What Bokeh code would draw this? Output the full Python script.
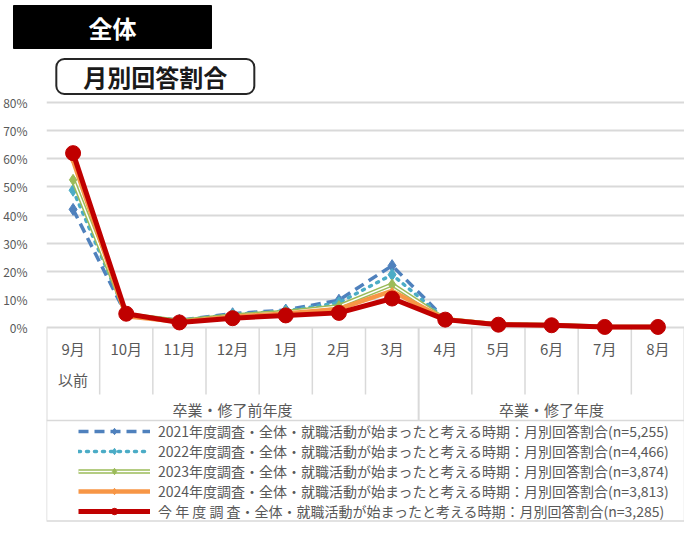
from bokeh.plotting import figure
from bokeh.models import (Label, Legend, LegendItem, FixedTicker, Range1d,
                          FactorRange, ColumnDataSource, PrintfTickFormatter)
from bokeh.core.properties import value
from bokeh.embed import file_html
from bokeh.resources import INLINE

# ---------------- data ----------------
months = ["9月以前", "10月", "11月", "12月", "1月", "2月", "3月",
          "4月", "5月", "6月", "7月", "8月"]
month_line1 = ["9月", "10月", "11月", "12月", "1月", "2月", "3月",
               "4月", "5月", "6月", "7月", "8月"]
month_line2 = ["以前", "", "", "", "", "", "", "", "", "", "", ""]
groups = ["卒業・修了前年度", "卒業・修了年度"]
group_sizes = [7, 5]

y2021 = [42.0, 4.5, 2.6, 4.9, 6.2, 9.7, 22.0, 3.0, 1.2, 0.9, 0.3, 0.2]
y2022 = [48.8, 4.6, 2.5, 4.6, 5.9, 8.8, 18.8, 3.0, 1.2, 0.9, 0.3, 0.2]
y2023 = [52.5, 4.7, 2.3, 4.3, 5.5, 7.6, 15.3, 2.9, 1.1, 0.9, 0.3, 0.2]
y2024 = [59.3, 4.0, 2.0, 3.8, 5.0, 6.6, 13.0, 2.9, 1.1, 0.8, 0.2, 0.2]
y_now = [62.0, 4.9, 1.8, 3.3, 4.3, 5.2, 10.3, 2.8, 1.0, 0.8, 0.2, 0.2]

legend_labels = [
    "2021年度調査・全体・就職活動が始まったと考える時期：月別回答割合(n=5,255)",
    "2022年度調査・全体・就職活動が始まったと考える時期：月別回答割合(n=4,466)",
    "2023年度調査・全体・就職活動が始まったと考える時期：月別回答割合(n=3,874)",
    "2024年度調査・全体・就職活動が始まったと考える時期：月別回答割合(n=3,813)",
    "今 年 度 調 査・全体・就職活動が始まったと考える時期：月別回答割合(n=3,285)",
]
y_ticks = [0, 10, 20, 30, 40, 50, 60, 70, 80]
title_main = "全体"
title_sub = "月別回答割合"

# ---------------- layout helpers ----------------
W, H = 684, 522
FL = 42                      # frame left (px)
FT = 48                      # frame top (px)
FW = W - FL                  # frame width
Y0 = 327                     # pixel row of 0%
Y80 = 102                    # pixel row of 80%
PPU = (Y0 - Y80) / 80.0      # pixels per percent
n = len(months)
cat_w = FW / n

def ydat(py):
    return (Y0 - py) / PPU

def xdat(px):
    return (px - FL) / cat_w

FONT = "Noto Sans CJK JP"
GRAY = "#595959"
LINE = "#d9d9d9"

p = figure(width=W, height=H, output_backend="svg", toolbar_location=None,
           x_range=FactorRange(factors=months, range_padding=0),
           y_range=Range1d(ydat(H), ydat(FT)),
           min_border_left=FL, min_border_right=0, min_border_top=FT,
           min_border_bottom=0)
p.outline_line_color = None
p.background_fill_color = "white"
p.border_fill_color = "white"
p.xaxis.visible = False
p.xgrid.grid_line_color = None

# black title box in the area above the plot
p.title.text = title_main
p.title.align = "left"
p.title.offset = -33
p.title.standoff = 0
p.title.text_font = FONT
p.title.text_font_size = "24px"
p.title.text_font_style = "bold"
p.title.text_color = "white"
p.title.background_fill_color = "black"
p.title.border_line_color = "black"
p.title.padding = (75, 4)

p.yaxis.ticker = FixedTicker(ticks=y_ticks)
p.yaxis.formatter = PrintfTickFormatter(format="%d%%")
p.yaxis.axis_line_color = None
p.yaxis.major_tick_line_color = None
p.yaxis.minor_tick_line_color = None
p.yaxis.major_label_standoff = 13
p.yaxis.major_label_text_font = FONT
p.yaxis.major_label_text_font_size = "12px"
p.yaxis.major_label_text_color = GRAY
p.ygrid.ticker = FixedTicker(ticks=y_ticks)
p.ygrid.grid_line_color = LINE
p.ygrid.grid_line_width = 2

# ---------------- category table ----------------
full = [0]
acc = 0
for s in group_sizes:
    acc += s
    full.append(acc)
short_x = [b for b in range(n + 1) if b not in full]
p.segment(x0=short_x, y0=[0] * len(short_x), x1=short_x,
          y1=[ydat(394)] * len(short_x), line_color=LINE, line_width=1.5)
p.segment(x0=full, y0=[0] * len(full), x1=full,
          y1=[ydat(420)] * len(full), line_color=LINE, line_width=2)

p.text(x=months, y=[ydat(348)] * n, text=month_line1,
       text_font=value(FONT), text_font_size="15px", text_color=GRAY,
       text_align="center", text_baseline="middle")
p.text(x=months, y=[ydat(379)] * n, text=month_line2,
       text_font=value(FONT), text_font_size="15px", text_color=GRAY,
       text_align="center", text_baseline="middle")

gx = []
start = 0
for s in group_sizes:
    gx.append(start + s / 2)
    start += s
p.text(x=gx, y=[ydat(409)] * len(gx), text=groups,
       text_font=value(FONT), text_font_size="15px", text_color=GRAY,
       text_align="center", text_baseline="middle")

# legend frame
p.quad(left=[0], right=[n], top=[ydat(420)], bottom=[ydat(520.5)],
       fill_color=None, line_color=LINE, line_width=1.5)

# ---------------- series ----------------
src = ColumnDataSource(dict(x=months, a=y2021, b=y2022, c=y2023, d=y2024, e=y_now))

r1l = p.line("x", "a", source=src, line_color="#4F81BD", line_width=3.5,
             line_dash="10 6")
r1m = p.scatter("x", "a", source=src, marker="diamond", size=12,
                fill_color="#4F81BD", line_color="#4F81BD")

r2l = p.line("x", "b", source=src, line_color="#4BACC6", line_width=3.5,
             line_dash="2 6", line_cap="round")
r2m = p.scatter("x", "b", source=src, marker="diamond", size=12,
                fill_color="#4BACC6", line_color="#4BACC6")

r3l = p.line("x", "c", source=src, line_color="#9BBB59", line_width=4.5)
r3w = p.line("x", "c", source=src, line_color="white", line_width=1.5)
r3m = p.scatter("x", "c", source=src, marker="diamond", size=11,
                fill_color="#9BBB59", line_color="#9BBB59")

r4l = p.line("x", "d", source=src, line_color="#F79646", line_width=4.5)
r4m = p.scatter("x", "d", source=src, marker="diamond", size=7,
                fill_color="#F79646", line_color="#F79646")

r5l = p.line("x", "e", source=src, line_color="#C00000", line_width=5)
r5m = p.scatter("x", "e", source=src, marker="circle", size=15,
                fill_color="#C00000", line_color="#C00000")

items = [
    LegendItem(label=legend_labels[0], renderers=[r1l, r1m]),
    LegendItem(label=legend_labels[1], renderers=[r2l, r2m]),
    LegendItem(label=legend_labels[2], renderers=[r3l, r3w, r3m]),
    LegendItem(label=legend_labels[3], renderers=[r4l, r4m]),
    LegendItem(label=legend_labels[4], renderers=[r5l, r5m]),
]
legend = Legend(items=items, location=(32, 1), orientation="vertical",
                glyph_width=72, glyph_height=16, label_standoff=8,
                label_height=16, spacing=0, padding=1, margin=0,
                label_text_font=FONT, label_text_font_size="14px",
                label_text_line_height=1.0,
                label_text_color=GRAY, border_line_color=None,
                background_fill_alpha=0)
p.add_layout(legend)

# ---------------- rounded sub-title box ----------------
p.add_layout(Label(x=xdat(151.5), y=ydat(76), text=title_sub,
                   text_font=FONT, text_font_size="24px", text_font_style="bold",
                   text_color="#1a1a1a", text_align="center", text_baseline="middle",
                   background_fill_color="white", border_line_color="#262626",
                   border_line_width=2, border_radius=8,
                   padding=(27, 0)))

open("out.html", "w").write(file_html(p, INLINE))
